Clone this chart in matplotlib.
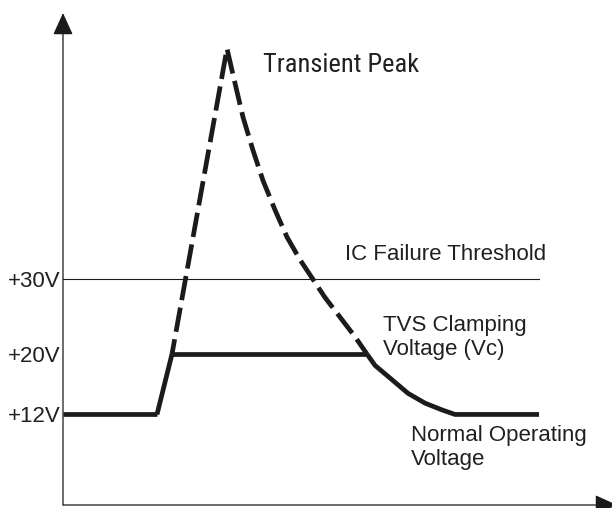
"""TVS clamping diagram: transient peak vs clamped voltage."""
import matplotlib
matplotlib.use("Agg")
import matplotlib.pyplot as plt
from matplotlib import font_manager

C_INK = "#1c1a1b"
C_TXT = "#231f20"

# time axis in arbitrary units, voltage in volts
t_normal = [0.0, 9.4]
v_normal = [12, 12]
t_rise = [9.4, 10.9]
v_rise = [12, 20]
t_clamp = [10.9, 30.4]
v_clamp = [20, 20]
t_spike = [10.9, 16.4, 16.5, 17.2, 18.0, 19.0, 20.0, 21.2, 22.4, 23.7, 24.9,
           26.2, 27.7, 29.2, 30.4]
v_spike = [20, 60.5, 59.9, 55.9, 51.4, 47.0, 43.0, 39.1, 35.5, 32.5, 30.1,
           27.5, 24.9, 22.3, 20]
t_decay = [30.4, 31.2, 32.9, 34.5, 36.2, 37.9, 39.2, 47.6]
v_decay = [20, 18.5, 16.6, 14.8, 13.5, 12.6, 12, 12]
t_threshold = [0.0, 47.6]
v_threshold = [30, 30]

tick_vals = [12, 20, 30]
tick_labels = ["+12V", "+20V", "+30V"]

names = {f.name for f in font_manager.fontManager.ttflist}
FONT = "Liberation Sans"
narrow = FONT
narrow_size = 16.8
for cand in ["Liberation Sans Narrow", "Roboto Condensed", "DejaVu Sans Condensed",
             "Open Sans Condensed"]:
    if cand in names:
        narrow, narrow_size = cand, 19
        break

fig = plt.figure(figsize=(6.12, 5.08), dpi=100)
ax = fig.add_axes([63 / 612, 3 / 508, 549 / 612, 492 / 508])
ax.set_xlim(0, 54.9)
ax.set_ylim(0, 65.2)
for s in ax.spines.values():
    s.set_visible(False)
ax.set_xticks([])
ax.set_yticks(tick_vals)
ax.set_yticklabels(tick_labels, fontsize=16, family=FONT, color=C_TXT)
ax.tick_params(axis="y", length=0, pad=2)

# axes with arrow heads
arrow = dict(arrowstyle="-|>,head_length=0.55,head_width=0.25", mutation_scale=25,
             lw=0.9, color=C_INK, shrinkA=0, shrinkB=0)
ax.annotate("", xy=(0, 65.2), xytext=(0, 0), arrowprops=arrow, annotation_clip=False)
ax.annotate("", xy=(55.4, 0), xytext=(0, 0), arrowprops=arrow, annotation_clip=False)

ax.plot(t_threshold, v_threshold, color=C_INK, lw=0.8)

thick = dict(color=C_INK, lw=3.4, solid_capstyle="butt", solid_joinstyle="round",
             clip_on=False)
ax.plot(t_normal, v_normal, **thick)
ax.plot(t_rise, v_rise, **thick)
ax.plot(t_clamp, v_clamp, **thick)
ax.plot(t_decay, v_decay, **thick)
ax.plot(t_spike, v_spike, color=C_INK, lw=3.4, linestyle=(2.0, (5.2, 1.6)),
        dash_capstyle="butt", dash_joinstyle="miter", clip_on=False)

txt = dict(fontsize=16, family=FONT, color=C_TXT, va="baseline", ha="left")
ax.text(20.0, 57.35, "Transient Peak", fontsize=narrow_size, family=narrow, color=C_TXT,
        va="baseline", ha="left")
ax.text(28.2, 32.45, "IC Failure Threshold", **txt)
ax.text(32.0, 23.05, "TVS Clamping", **txt)
ax.text(32.0, 19.9, "Voltage (Vc)", **txt)
ax.text(34.8, 8.5, "Normal Operating", **txt)
ax.text(34.8, 5.3, "Voltage", **txt)

fig.savefig("out.png", dpi=100, facecolor="white")
